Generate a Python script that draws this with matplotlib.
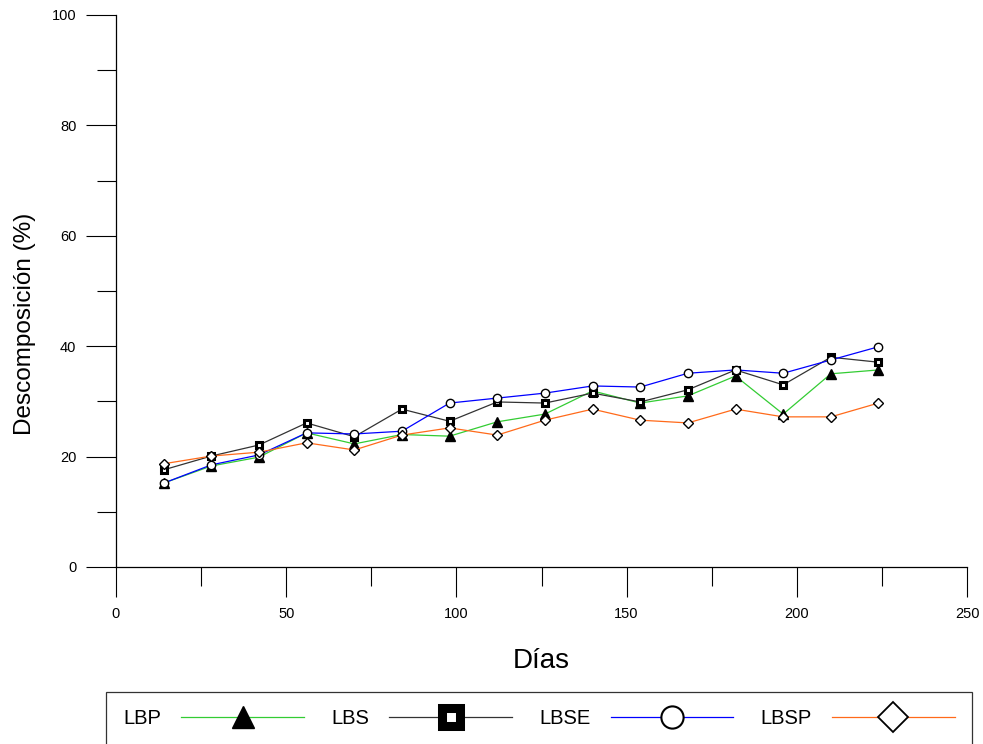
import matplotlib
matplotlib.use("Agg")
import matplotlib.pyplot as plt
from matplotlib.ticker import MultipleLocator

dias = [14, 28, 42, 56, 70, 84, 98, 112, 126, 140, 154, 168, 182, 196, 210, 224]
lbp = [15.2, 18.3, 19.9, 24.3, 22.3, 24.0, 23.7, 26.3, 27.7, 31.9, 29.7, 31.0, 34.6, 27.7, 35.0, 35.7]
lbs = [17.6, 20.1, 22.1, 26.1, 23.6, 28.6, 26.4, 29.9, 29.7, 31.5, 29.9, 32.1, 35.7, 33.0, 38.0, 37.1]
lbse = [15.2, 18.5, 20.3, 24.3, 24.1, 24.6, 29.7, 30.6, 31.5, 32.8, 32.6, 35.1, 35.7, 35.1, 37.5, 39.9]
lbsp = [18.7, 20.1, 20.8, 22.5, 21.2, 23.9, 25.2, 23.9, 26.6, 28.6, 26.6, 26.1, 28.6, 27.2, 27.2, 29.7]
series_names = ["LBP", "LBS", "LBSE", "LBSP"]
x_label = "Días"
y_label = "Descomposición (%)"

plt.rcParams['font.family'] = ['Liberation Sans', 'DejaVu Sans']

W, H = 983, 744
fig = plt.figure(figsize=(W / 100, H / 100), dpi=100)
ax = fig.add_axes([116 / W, 1 - 567 / H, (967 - 116) / W, (567 - 15) / H])

ax.plot(dias, lbp, color='#33cc33', lw=0.9, marker='^', ms=6.5, mfc='black', mec='black', label=series_names[0])
ax.plot(dias, lbs, color='#333333', lw=0.9, marker='s', ms=5, mfc='white', mec='black', mew=2.2, label=series_names[1])
ax.plot(dias, lbse, color='#0000ff', lw=0.9, marker='o', ms=6, mfc='white', mec='black', mew=1.0, label=series_names[2])
ax.plot(dias, lbsp, color='#ff6a1a', lw=0.9, marker='D', ms=5.3, mfc='white', mec='black', mew=1.0, label=series_names[3])

ax.set_xlim(0, 250)
ax.set_ylim(0, 100)
ax.xaxis.set_major_locator(MultipleLocator(50))
ax.xaxis.set_minor_locator(MultipleLocator(25))
ax.yaxis.set_major_locator(MultipleLocator(20))
ax.yaxis.set_minor_locator(MultipleLocator(10))
for s in ['top', 'right']:
    ax.spines[s].set_visible(False)
for s in ['left', 'bottom']:
    ax.spines[s].set_linewidth(0.9)
ax.tick_params(which='major', direction='out', length=21.5, width=0.8, labelsize=10.5, pad=7)
ax.tick_params(which='minor', direction='out', length=14, width=0.8)

ax.set_xlabel(x_label, fontsize=20, labelpad=20)
ax.set_ylabel(y_label, fontsize=17.5)
ax.yaxis.set_label_coords(-0.094, 0.44)

leg = fig.legend(loc='upper left', bbox_to_anchor=(106 / W, 1 - 692 / H), borderaxespad=0,
                 ncol=4, markerfirst=False, handlelength=6.1,
                 handletextpad=1.0, columnspacing=1.35, borderpad=0.85, fontsize=14.5,
                 frameon=True, fancybox=False, edgecolor='black')
leg.get_frame().set_linewidth(0.9)
leg_sizes = [(16, 1.0), (12.3, 6.5), (16, 1.5), (15, 1.3)]
for h, (ms, mew) in zip(leg.legend_handles, leg_sizes):
    h.set_markersize(ms)
    h.set_markeredgewidth(mew)

fig.savefig("out.png", dpi=100)
